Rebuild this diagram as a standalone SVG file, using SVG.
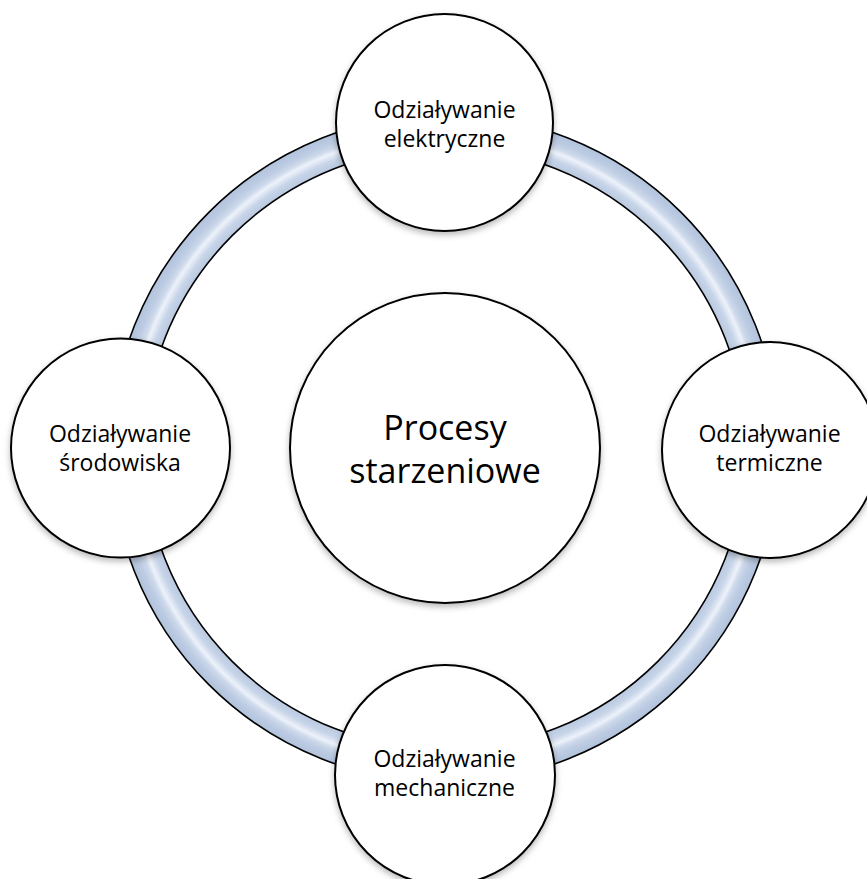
<svg xmlns="http://www.w3.org/2000/svg" width="867" height="879" viewBox="0 0 867 879">
  <style>
    .node { fill: #ffffff; stroke: #000000; stroke-width: 2; filter: url(#shadow); }
    .lbl { font-family: "Open Sans", "Liberation Sans", sans-serif; font-size: 23px; fill: #000000; text-anchor: middle; }
    .big { font-size: 34px; }
    .band { fill: url(#tube); fill-rule: evenodd; stroke: #000000; stroke-width: 1.6; }
  </style>
  <defs>
    <radialGradient id="tube" gradientUnits="userSpaceOnUse" cx="445" cy="448.5" r="334">
      <stop offset="0" stop-color="#bccbe2"/>
      <stop offset="0.90" stop-color="#b8c8df"/>
      <stop offset="0.925" stop-color="#c8d5e9"/>
      <stop offset="0.945" stop-color="#edf2fa"/>
      <stop offset="0.958" stop-color="#cdd9eb"/>
      <stop offset="0.975" stop-color="#bdcce3"/>
      <stop offset="1" stop-color="#b1c2dc"/>
    </radialGradient>
    <filter id="shadow" x="-20%" y="-20%" width="140%" height="140%">
      <feDropShadow dx="0" dy="3" stdDeviation="3" flood-color="#000000" flood-opacity="0.28"/>
    </filter>
  </defs>
  <rect x="0" y="0" width="867" height="879" fill="#ffffff"/>
  <g id="connectors">
    <path class="band" d="M 445 114.5 A 334 334 0 1 1 445 782.5 A 334 334 0 1 1 445 114.5 Z M 445 147.5 A 301 301 0 1 0 445 749.5 A 301 301 0 1 0 445 147.5 Z"/>
  </g>
  <g id="node-center">
    <circle class="node" cx="445" cy="448" r="155"/>
    <text class="lbl big" x="445" y="440">Procesy</text>
    <text class="lbl big" x="445" y="483">starzeniowe</text>
  </g>
  <g id="node-top">
    <circle class="node" cx="444.5" cy="122.5" r="108.5"/>
    <text class="lbl" x="444.5" y="118">Odziaływanie</text>
    <text class="lbl" x="444.5" y="147">elektryczne</text>
  </g>
  <g id="node-left">
    <circle class="node" cx="120.5" cy="448" r="109.5"/>
    <text class="lbl" x="120" y="442">Odziaływanie</text>
    <text class="lbl" x="120" y="471">środowiska</text>
  </g>
  <g id="node-right">
    <circle class="node" cx="770" cy="450" r="108"/>
    <text class="lbl" x="769.5" y="442">Odziaływanie</text>
    <text class="lbl" x="769.5" y="471">termiczne</text>
  </g>
  <g id="node-bottom">
    <circle class="node" cx="445" cy="775" r="110"/>
    <text class="lbl" x="444.5" y="767">Odziaływanie</text>
    <text class="lbl" x="444.5" y="796">mechaniczne</text>
  </g>
</svg>
